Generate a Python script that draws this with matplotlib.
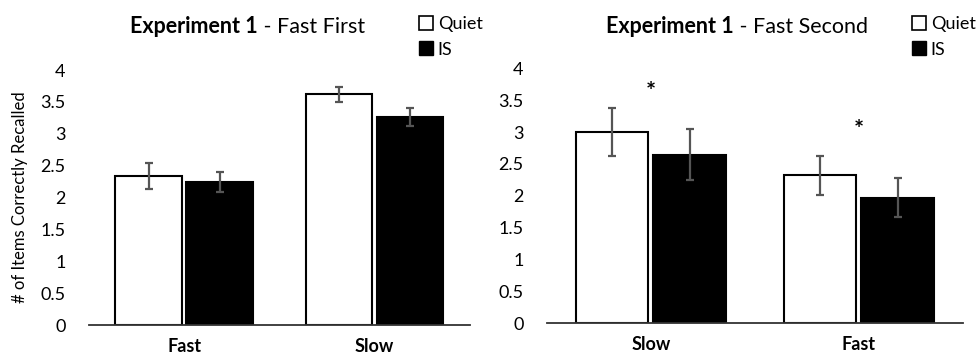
import numpy as np
import matplotlib.pyplot as plt
from matplotlib.patches import Patch

plt.rcParams['font.family'] = ['Lato', 'DejaVu Sans']

# Fast First condition
first_groups = ['Fast', 'Slow']
first_quiet = [2.34, 3.62]
first_quiet_err = [0.20, 0.12]
first_is = [2.24, 3.26]
first_is_err = [0.16, 0.14]

# Fast Second condition
second_groups = ['Slow', 'Fast']
second_quiet = [3.00, 2.32]
second_quiet_err = [0.38, 0.31]
second_is = [2.64, 1.97]
second_is_err = [0.40, 0.31]
second_stars = [3.65, 3.06]

fig = plt.figure(figsize=(9.76, 3.57), dpi=100)
ax1 = fig.add_axes([0.0912, 0.0896, 0.390, 0.714])
ax2 = fig.add_axes([0.5605, 0.0944, 0.426, 0.7143])

width = 0.35
off = 0.187


def draw_panel(ax, groups, quiet, quiet_err, is_vals, is_err):
    x = np.arange(len(groups))
    ekw = dict(ecolor='#555555', elinewidth=1.6, capsize=3, capthick=1.6)
    ax.bar(x - off, quiet, width, yerr=quiet_err, color='white',
           edgecolor='black', linewidth=1.5, error_kw=ekw, zorder=2)
    ax.bar(x + off, is_vals, width, yerr=is_err, color='black',
           edgecolor='black', linewidth=1.5, error_kw=ekw, zorder=2)
    ax.set_xlim(-0.5, 1.5)
    ax.set_ylim(0, 4)
    ax.set_yticks([0, 0.5, 1, 1.5, 2, 2.5, 3, 3.5, 4])
    ax.set_yticklabels(['0', '0.5', '1', '1.5', '2', '2.5', '3', '3.5', '4'])
    ax.set_xticks(x)
    ax.set_xticklabels(groups, fontweight='bold', fontsize=13)
    ax.tick_params(axis='y', length=0, pad=17, labelsize=13)
    ax.tick_params(axis='x', length=0, pad=9)
    for s in ['top', 'right', 'left']:
        ax.spines[s].set_visible(False)
    ax.spines['bottom'].set_linewidth(1.3)
    ax.spines['bottom'].set_color('#333333')
    ax.patch.set_alpha(0)


draw_panel(ax1, first_groups, first_quiet, first_quiet_err, first_is, first_is_err)
draw_panel(ax2, second_groups, second_quiet, second_quiet_err, second_is, second_is_err)

ax1.set_ylabel('# of Items Correctly Recalled', fontsize=12, labelpad=9)

# significance markers
for i, y in enumerate(second_stars):
    ax2.annotate('*', (i, y), xytext=(0, -7), textcoords='offset points',
                 ha='center', va='baseline', fontsize=17, fontweight='bold')

# two-part titles
ty = 1 - 33 / 357
fig.text(258 / 976, ty, 'Experiment 1', ha='right', va='baseline',
         fontsize=15.5, fontweight='bold')
fig.text(258 / 976, ty, ' - Fast First', ha='left', va='baseline', fontsize=15.5)
fig.text(734 / 976, ty, 'Experiment 1', ha='right', va='baseline',
         fontsize=15.5, fontweight='bold')
fig.text(734 / 976, ty, ' - Fast Second', ha='left', va='baseline', fontsize=15.5)

handles = [Patch(facecolor='white', edgecolor='black', linewidth=1.2, label='Quiet'),
           Patch(facecolor='black', edgecolor='black', label='IS')]
for xa in [408 / 976, 901 / 976]:
    fig.legend(handles=handles, loc='upper left', bbox_to_anchor=(xa, 0.985),
               frameon=False, fontsize=13, handlelength=0.8, handleheight=0.8,
               handletextpad=0.25, labelspacing=0.5, borderaxespad=0.2)

fig.savefig('out.png', dpi=100)
